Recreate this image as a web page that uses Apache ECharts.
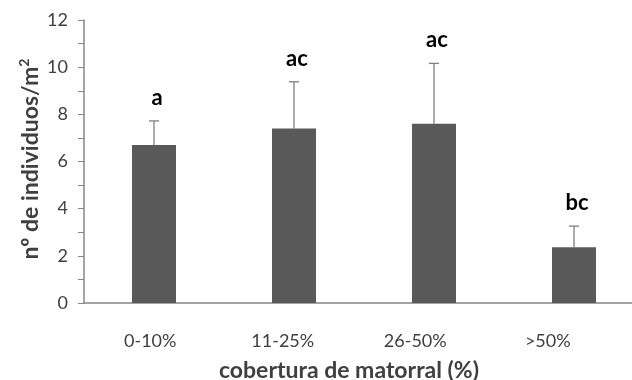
<!DOCTYPE html>
<html><head><meta charset="utf-8">
<script src="https://cdn.jsdelivr.net/npm/echarts@6/dist/echarts.min.js"></script>
<style>html,body{margin:0;padding:0;background:#fff}#c{width:632px;height:380px}</style>
</head><body><div id="c"></div>
<script>
const categories = ['0-10%', '11-25%', '26-50%', '>50%'];
const means = [6.7, 7.4, 7.6, 2.36];
const errTops = [7.72, 9.38, 10.16, 3.26];
const letters = ['a', 'ac', 'ac', 'bc'];
const yTicks = [0, 2, 4, 6, 8, 10, 12];

const FONT = 'Lato';
const chart = echarts.init(document.getElementById('c'));
chart.setOption({
  animation: false,
  backgroundColor: '#ffffff',
  grid: [
    {left: 84, top: 20, width: 560, height: 283, outerBoundsMode: 'none', containLabel: false},
    {left: 84, top: 20, width: 530, height: 283, outerBoundsMode: 'none', containLabel: false}
  ],
  xAxis: [
    {type: 'category', gridIndex: 0, data: categories,
     axisLine: {show: true, lineStyle: {color: '#868686', width: 1.5}},
     axisTick: {show: false}, axisLabel: {show: false}, splitLine: {show: false}},
    {type: 'category', gridIndex: 1, data: categories,
     axisLine: {show: false}, axisTick: {show: false},
     axisLabel: {color: '#404040', fontFamily: FONT, fontSize: 18, margin: 29},
     name: 'cobertura de matorral (%)', nameLocation: 'middle', nameGap: 56,
     nameTextStyle: {color: '#404040', fontFamily: FONT, fontSize: 23, fontWeight: 'bold'}}
  ],
  yAxis: [
    {type: 'value', gridIndex: 0, min: 0, max: 12, interval: 1,
     axisLine: {show: true, lineStyle: {color: '#868686', width: 1.5}},
     axisTick: {show: true, inside: false, length: 6, lineStyle: {color: '#868686'}},
     axisLabel: {color: '#404040', fontFamily: FONT, fontSize: 18, margin: 16,
       formatter: v => yTicks.indexOf(v) >= 0 ? String(v) : ''},
     splitLine: {show: false}},
    {type: 'value', gridIndex: 1, min: 0, max: 12, show: false}
  ],
  graphic: [{
    type: 'text', x: 31, y: 159, rotation: Math.PI / 2,
    style: {
      text: '{a|nº de individuos/m}{s|2}',
      align: 'center', verticalAlign: 'middle',
      rich: {
        a: {fontFamily: FONT, fontSize: 23, fontWeight: 'bold', fill: '#404040', lineHeight: 28},
        s: {fontFamily: FONT, fontSize: 14, fontWeight: 'bold', fill: '#404040', verticalAlign: 'top', lineHeight: 28, padding: [0, 0, 12, 0]}
      }
    }
  }],
  series: [
    {type: 'bar', xAxisIndex: 0, yAxisIndex: 0, data: means, barWidth: 44,
     itemStyle: {color: '#595959'}, z: 2},
    {type: 'custom', xAxisIndex: 0, yAxisIndex: 0, z: 3,
     data: categories.map((c, i) => [i, means[i], errTops[i]]),
     renderItem: function (params, api) {
       const i = api.value(0);
       const b = api.coord([i, api.value(1)]);
       const t = api.coord([i, api.value(2)]);
       const st = {stroke: '#7f7f7f', lineWidth: 1.3};
       return {type: 'group', children: [
         {type: 'line', shape: {x1: b[0], y1: b[1], x2: t[0], y2: t[1]}, style: st},
         {type: 'line', shape: {x1: t[0] - 5, y1: t[1], x2: t[0] + 5, y2: t[1]}, style: st},
         {type: 'text', x: t[0] + 3, y: t[1] - 23,
          style: {text: letters[params.dataIndex], fontFamily: FONT, fontSize: 22, fontWeight: 'bold',
                  fill: '#000000', align: 'center', verticalAlign: 'middle'}}
       ]};
     }}
  ]
});
</script></body></html>
